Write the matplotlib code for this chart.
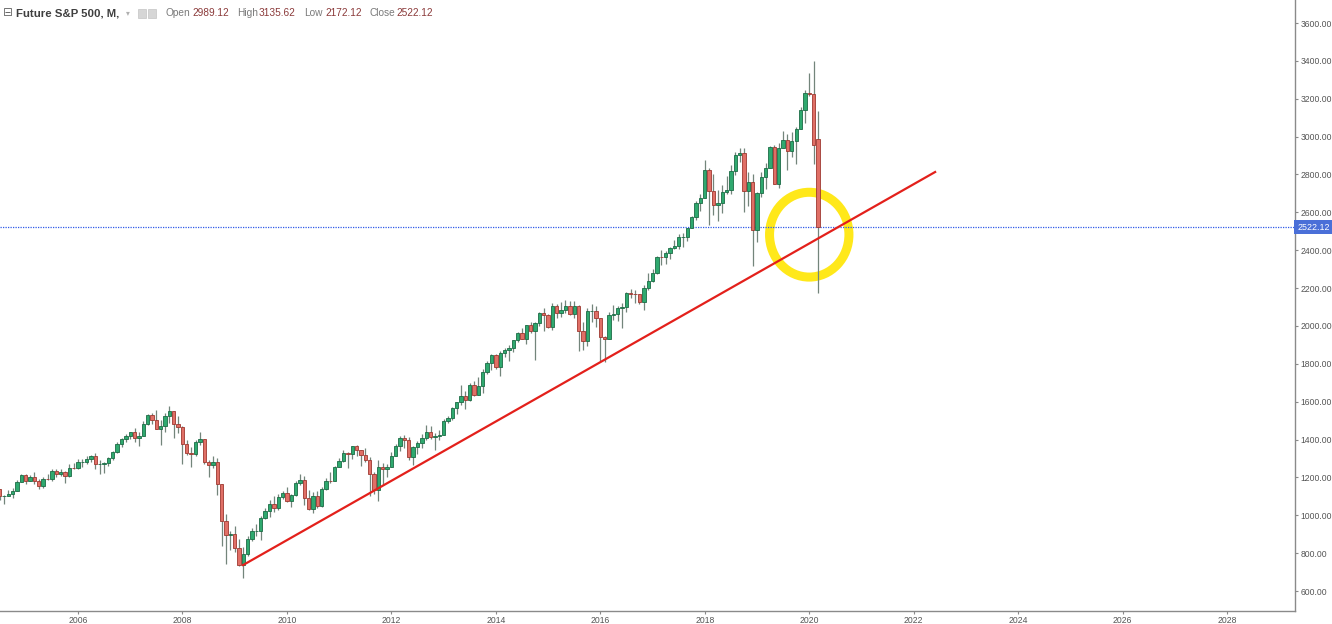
import numpy as np
import matplotlib.pyplot as plt
from matplotlib.patches import Ellipse, Rectangle

# monthly candles, Jun 2004 .. Mar 2020
start_year, start_month = 2004, 6

opens = [
    1120.7, 1140.8, 1101.7, 1104.2, 1114.6, 1130.2, 1173.8,  # 2004
    1211.9, 1181.3, 1203.6, 1180.6, 1156.9, 1191.5, 1191.3, 1234.2, 1220.3, 1228.8, 1207.0, 1249.5,
    1248.3, 1280.1, 1280.7, 1294.9, 1310.6, 1270.1, 1270.2, 1276.7, 1303.8, 1335.9, 1377.9, 1400.6,
    1418.3, 1438.2, 1406.8, 1420.9, 1482.4, 1530.6, 1503.4, 1455.3, 1474.0, 1526.8, 1549.4, 1481.1,
    1468.4, 1378.6, 1330.6, 1322.7, 1385.6, 1400.4, 1280.0, 1267.4, 1282.8, 1166.4, 968.8, 896.2,
    903.3, 825.9, 735.1, 797.9, 872.8, 919.1, 919.3, 987.5, 1020.6, 1057.1, 1036.2, 1095.6,
    1115.1, 1073.9, 1104.5, 1169.4, 1186.7, 1089.4, 1030.7, 1101.6, 1049.3, 1141.2, 1183.3, 1180.6,
    1257.6, 1286.1, 1327.2, 1325.8, 1363.6, 1345.2, 1320.6, 1292.3, 1218.9, 1131.4, 1253.3, 1247.0,
    1257.6, 1312.4, 1365.7, 1408.5, 1397.9, 1310.3, 1362.2, 1379.3, 1406.6, 1440.7, 1412.2, 1416.2,
    1426.2, 1498.1, 1514.7, 1569.2, 1597.6, 1630.7, 1606.3, 1685.7, 1633.0, 1681.6, 1756.5, 1805.8,
    1848.4, 1782.6, 1859.5, 1872.3, 1884.0, 1923.6, 1960.2, 1930.7, 2003.4, 1972.3, 2018.1, 2067.6,
    2058.9, 1995.0, 2104.5, 2067.9, 2085.5, 2107.4, 2063.1, 2103.8, 1972.2, 1920.0, 2079.4, 2080.4,
    2043.9, 1940.2, 1932.2, 2059.7, 2065.3, 2097.0, 2098.9, 2173.6, 2171.0, 2168.3, 2126.2, 2198.8,
    2238.8, 2278.9, 2363.6, 2362.7, 2384.2, 2411.8, 2423.4, 2470.3, 2471.7, 2519.4, 2575.3, 2647.6,
    2673.6, 2823.8, 2713.8, 2640.9, 2648.1, 2705.3, 2718.4, 2816.3, 2901.5, 2914.0, 2711.7, 2760.2,
    2506.9, 2704.1, 2784.5, 2834.4, 2945.8, 2752.1, 2941.8, 2980.4, 2926.5, 2976.7, 3037.6, 3141.0,
    3230.8, 3225.5, 2989.12,  # 2020
]
highs = [
    1146.2, 1140.8, 1108.6, 1131.5, 1142.1, 1188.5, 1217.3,
    1217.9, 1212.4, 1229.1, 1191.9, 1199.6, 1219.6, 1245.2, 1245.9, 1243.1, 1233.3, 1270.6, 1275.8,
    1294.9, 1297.6, 1310.9, 1318.2, 1326.7, 1290.7, 1280.4, 1306.7, 1340.3, 1389.5, 1407.9, 1431.8,
    1441.6, 1461.6, 1438.9, 1498.0, 1535.6, 1540.6, 1555.9, 1503.9, 1538.7, 1576.1, 1552.8, 1523.6,
    1471.8, 1396.0, 1359.7, 1397.0, 1440.2, 1404.1, 1292.2, 1313.2, 1303.0, 1167.0, 1007.5, 918.9,
    943.9, 875.0, 833.0, 888.7, 930.2, 956.2, 996.7, 1039.5, 1080.2, 1101.4, 1113.7, 1130.4,
    1150.5, 1112.4, 1180.2, 1219.8, 1205.1, 1131.2, 1120.9, 1129.2, 1148.9, 1196.1, 1227.1, 1262.6,
    1302.7, 1344.1, 1332.3, 1366.6, 1370.6, 1345.2, 1356.5, 1307.4, 1229.3, 1292.7, 1277.6, 1269.4,
    1333.5, 1378.0, 1419.2, 1422.4, 1415.3, 1363.5, 1391.7, 1426.7, 1474.5, 1470.0, 1434.3, 1448.0,
    1509.9, 1525.8, 1570.3, 1597.6, 1687.2, 1654.2, 1698.8, 1709.7, 1729.9, 1775.2, 1813.6, 1849.4,
    1850.8, 1867.9, 1883.9, 1897.3, 1924.0, 1968.2, 1991.4, 2005.0, 2019.3, 2018.2, 2075.8, 2093.6,
    2064.4, 2119.6, 2117.5, 2125.9, 2134.7, 2129.9, 2132.8, 2112.7, 2021.0, 2094.3, 2116.5, 2104.3,
    2043.9, 1947.2, 2072.2, 2111.1, 2103.5, 2120.6, 2177.1, 2193.8, 2187.9, 2169.6, 2214.1, 2277.5,
    2301.0, 2371.5, 2401.0, 2398.2, 2418.7, 2453.8, 2484.0, 2490.9, 2519.4, 2583.0, 2657.7, 2695.0,
    2878.5, 2836.0, 2801.9, 2717.5, 2742.2, 2791.5, 2848.0, 2916.5, 2940.9, 2939.9, 2815.2, 2800.2,
    2709.0, 2813.5, 2860.3, 2949.5, 2954.1, 2964.2, 3028.0, 3013.6, 3022.0, 3050.1, 3154.3, 3247.9,
    3337.8, 3397.5, 3135.62,
]
lows = [
    1113.3, 1078.8, 1060.7, 1101.3, 1090.2, 1127.6, 1173.8,
    1163.8, 1180.6, 1163.7, 1136.2, 1146.2, 1188.3, 1183.6, 1201.1, 1205.4, 1168.2, 1201.1, 1246.6,
    1245.7, 1253.6, 1268.4, 1280.7, 1245.3, 1219.3, 1224.5, 1261.3, 1290.9, 1327.1, 1360.9, 1385.9,
    1403.9, 1389.4, 1363.9, 1416.4, 1476.7, 1484.2, 1454.3, 1370.6, 1439.3, 1489.6, 1406.1, 1435.7,
    1270.1, 1316.8, 1256.9, 1312.5, 1373.1, 1272.0, 1200.4, 1247.5, 1106.4, 839.8, 741.0, 815.7,
    804.3, 734.5, 666.8, 783.3, 866.1, 888.9, 869.3, 978.5, 991.0, 1019.9, 1029.4, 1085.9,
    1071.6, 1044.5, 1101.4, 1161.7, 1055.9, 1028.3, 1010.9, 1039.7, 1041.3, 1131.9, 1173.0, 1179.0,
    1257.6, 1282.9, 1249.1, 1294.7, 1311.8, 1258.1, 1282.9, 1101.5, 1114.2, 1074.8, 1158.7, 1202.4,
    1257.6, 1312.4, 1340.0, 1357.4, 1291.0, 1266.7, 1325.4, 1354.7, 1396.6, 1403.3, 1343.4, 1398.1,
    1426.2, 1485.0, 1501.5, 1536.0, 1581.3, 1560.3, 1604.6, 1627.5, 1633.0, 1646.5, 1746.2, 1767.9,
    1770.5, 1737.9, 1834.4, 1814.4, 1859.8, 1915.0, 1930.7, 1904.8, 1964.0, 1820.7, 2001.0, 1972.6,
    1988.1, 1980.9, 2039.7, 2048.4, 2067.9, 2056.3, 2044.0, 1867.0, 1871.9, 1893.7, 2019.4, 1993.3,
    1812.3, 1810.1, 1931.0, 2033.8, 2025.9, 1991.7, 2074.0, 2147.6, 2119.1, 2114.7, 2084.0, 2187.4,
    2233.6, 2271.7, 2322.3, 2329.0, 2352.7, 2405.7, 2407.7, 2417.4, 2446.6, 2519.4, 2557.5, 2605.5,
    2673.6, 2532.7, 2585.9, 2553.8, 2594.6, 2698.7, 2699.0, 2796.3, 2864.1, 2603.5, 2631.1, 2316.8,
    2444.0, 2681.8, 2722.3, 2834.4, 2750.5, 2728.8, 2941.8, 2822.1, 2891.9, 2855.9, 3037.6, 3070.3,
    3214.6, 2855.8, 2172.12,
]
closes = [
    1140.8, 1101.7, 1104.2, 1114.6, 1130.2, 1173.8, 1211.9,
    1181.3, 1203.6, 1180.6, 1156.9, 1191.5, 1191.3, 1234.2, 1220.3, 1228.8, 1207.0, 1249.5, 1248.3,
    1280.1, 1280.7, 1294.9, 1310.6, 1270.1, 1270.2, 1276.7, 1303.8, 1335.9, 1377.9, 1400.6, 1418.3,
    1438.2, 1406.8, 1420.9, 1482.4, 1530.6, 1503.4, 1455.3, 1474.0, 1526.8, 1549.4, 1481.1, 1468.4,
    1378.6, 1330.6, 1322.7, 1385.6, 1400.4, 1280.0, 1267.4, 1282.8, 1166.4, 968.8, 896.2, 903.3,
    825.9, 735.1, 797.9, 872.8, 919.1, 919.3, 987.5, 1020.6, 1057.1, 1036.2, 1095.6, 1115.1,
    1073.9, 1104.5, 1169.4, 1186.7, 1089.4, 1030.7, 1101.6, 1049.3, 1141.2, 1183.3, 1180.6, 1257.6,
    1286.1, 1327.2, 1325.8, 1363.6, 1345.2, 1320.6, 1292.3, 1218.9, 1131.4, 1253.3, 1247.0, 1257.6,
    1312.4, 1365.7, 1408.5, 1397.9, 1310.3, 1362.2, 1379.3, 1406.6, 1440.7, 1412.2, 1416.2, 1426.2,
    1498.1, 1514.7, 1569.2, 1597.6, 1630.7, 1606.3, 1685.7, 1633.0, 1681.6, 1756.5, 1805.8, 1848.4,
    1782.6, 1859.5, 1872.3, 1884.0, 1923.6, 1960.2, 1930.7, 2003.4, 1972.3, 2018.1, 2067.6, 2058.9,
    1995.0, 2104.5, 2067.9, 2085.5, 2107.4, 2063.1, 2103.8, 1972.2, 1920.0, 2079.4, 2080.4, 2043.9,
    1940.2, 1932.2, 2059.7, 2065.3, 2097.0, 2098.9, 2173.6, 2171.0, 2168.3, 2126.2, 2198.8, 2238.8,
    2278.9, 2363.6, 2362.7, 2384.2, 2411.8, 2423.4, 2470.3, 2471.7, 2519.4, 2575.3, 2647.6, 2673.6,
    2823.8, 2713.8, 2640.9, 2648.1, 2705.3, 2718.4, 2816.3, 2901.5, 2914.0, 2711.7, 2760.2, 2506.9,
    2704.1, 2784.5, 2834.4, 2945.8, 2752.1, 2941.8, 2980.4, 2926.5, 2976.7, 3037.6, 3141.0, 3230.8,
    3225.5, 2954.2, 2522.12,
]

# trend line drawn by hand, and the highlight circle
trend_x = [2009.16, 2022.41]
trend_y = [737, 2813]
circle_center = (2020.0, 2482)
circle_size = (1.52, 448)
last_close = 2522.12

year_ticks = list(range(2006, 2030, 2))
price_ticks = list(range(600, 3601, 200))

n = len(closes)
months = np.arange(n) + (start_month - 1)
x = start_year + months / 12.0
o = np.array(opens)
h = np.array(highs)
l = np.array(lows)
c = np.array(closes)
up = c >= o

green, green_edge = '#2fa96f', '#1c6b45'
red, red_edge = '#e06f66', '#9e3830'
wick = '#73857b'

fig = plt.figure(figsize=(13.32, 6.24), dpi=100)
ax = fig.add_axes([0, 13 / 624, 1295 / 1332, 611 / 624])

ax.add_patch(Ellipse(circle_center, circle_size[0], circle_size[1], angle=0, fill=False,
                     edgecolor='#ffe81a', linewidth=6.5, zorder=1))
ax.vlines(x, l, h, color=wick, linewidth=0.9, zorder=2)
w = 0.064
ax.bar(x[up], c[up] - o[up], bottom=o[up], width=w, color=green,
       edgecolor=green_edge, linewidth=0.6, zorder=3)
ax.bar(x[~up], c[~up] - o[~up], bottom=o[~up], width=w, color=red,
       edgecolor=red_edge, linewidth=0.6, zorder=3)

ax.plot(trend_x, trend_y, color='#e3201b', linewidth=1.6, zorder=4)
ax.axhline(last_close, color='#2f5be8', linewidth=0.9, linestyle=(0, (1, 1)), zorder=2)

ax.set_xlim(2004.507, 2029.30)
ax.set_ylim(494.4, 3721.5)

for s in ['top', 'left']:
    ax.spines[s].set_visible(False)
for s in ['bottom', 'right']:
    ax.spines[s].set_color('#8a8a8a')
    ax.spines[s].set_linewidth(1.0)

ax.yaxis.tick_right()
ax.set_yticks(price_ticks)
ax.set_yticklabels([f'{p:.2f}' for p in price_ticks])
ax.set_xticks(year_ticks)
ax.set_xticklabels([str(y) for y in year_ticks])
ax.tick_params(axis='both', colors='#8a8a8a', labelcolor='#555555', labelsize=6.2,
               length=2.5, width=0.8)
ax.tick_params(axis='y', pad=1.5)
ax.tick_params(axis='x', pad=1)
for t in ax.get_xticklabels() + ax.get_yticklabels():
    t.set_fontfamily('Liberation Sans')

# last price label on the price scale
ax.annotate(f'{last_close:.2f}', xy=(1.0, last_close), xycoords=('axes fraction', 'data'),
            xytext=(1.5, 0), textcoords='offset points', ha='left', va='center',
            fontsize=6.4, color='white', family='Liberation Sans',
            bbox=dict(boxstyle='square,pad=0.3', fc='#4a6fd8', ec='none'),
            annotation_clip=False)

# header
W, H = 1332.0, 624.0
ty = 1 - 13 / H
fig.text(3 / W, ty, '⊟', fontsize=8.5, color='#6a6a6a', va='center', family='DejaVu Sans')
fig.text(16 / W, ty, 'Future S&P 500, M,', fontsize=8.2, color='#3f3f3f', va='center',
         family='Liberation Sans', fontweight='semibold')
fig.text(126 / W, ty, '▾', fontsize=5.5, color='#b0b0b0', va='center', family='DejaVu Sans')
for px in (138, 148):
    fig.patches.append(Rectangle((px / W, (H - 18) / H), 8 / W, 9 / H, transform=fig.transFigure,
                                 facecolor='#d6d6d6', edgecolor='#c4c4c4', linewidth=0.5))
items = [('Open', 166, '2989.12', 192), ('High', 237, '3135.62', 259),
         ('Low', 304, '2172.12', 325), ('Close', 369, '2522.12', 396)]
for lab, lx, val, vx in items:
    fig.text(lx / W, ty, lab, fontsize=7.3, color='#7a7a7a', va='center', family='Liberation Sans')
    fig.text(vx / W, ty, val, fontsize=7.3, color='#8b3a3a', va='center', family='Liberation Sans')

fig.savefig('out.png', dpi=100)
